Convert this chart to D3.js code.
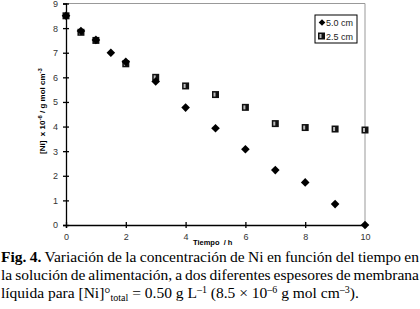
<!DOCTYPE html>
<html><head><meta charset="utf-8">
<script src="https://cdn.jsdelivr.net/npm/d3@7"></script>
<style>body{margin:0;background:#fff}svg{display:block}</style>
</head><body>
<script>
const timesA = [0,0.5,1,1.5,2,3,4,5,6,7,8,9,10];
const series50 = [8.5,7.88,7.52,7.0,6.63,5.83,4.77,3.93,3.08,2.23,1.73,0.85,0];
const timesB = [0,0.5,1,2,3,4,5,6,7,8,9,10];
const series25 = [8.5,7.83,7.5,6.55,6.0,5.65,5.3,4.78,4.12,3.96,3.9,3.86];
const xTicks = [0,2,4,6,8,10];
const yTicks = [0,1,2,3,4,5,6,7,8,9];
const legendLabels = ["5.0 cm","2.5 cm"];
const captionLines = [
  ["Fig. 4.", " Variación de la concentración de Ni en función del tiempo en"],
  ["", "la solución de alimentación, a dos diferentes espesores de membrana"]
];

const W=420,H=309;
const svg=d3.select("body").append("svg").attr("width",W).attr("height",H);
const x=d3.scaleLinear().domain([0,10]).range([66,365]);
const y=d3.scaleLinear().domain([0,9]).range([225,3.5]);

svg.append("line").attr("x1",x(0)).attr("x2",x(10)).attr("y1",y(9)).attr("y2",y(9)).attr("stroke","#999").attr("stroke-width",1);
svg.append("line").attr("x1",x(10)).attr("x2",x(10)).attr("y1",y(9)).attr("y2",y(0)).attr("stroke","#999").attr("stroke-width",1);

const fontA="Liberation Sans, Arial, sans-serif";
const xAxis=svg.append("g").attr("transform",`translate(0,${y(0)})`)
 .call(d3.axisBottom(x).tickValues(xTicks).tickSize(3).tickPadding(6).tickFormat(d3.format("d")));
const yAxis=svg.append("g").attr("transform",`translate(${x(0)},0)`)
 .call(d3.axisLeft(y).tickValues(yTicks).tickSize(3).tickPadding(5).tickFormat(d3.format("d")));
[xAxis,yAxis].forEach(g=>{
  g.select(".domain").attr("stroke","#000").attr("stroke-width",1.3);
  g.selectAll(".tick line").attr("stroke","#000").attr("stroke-width",1.3);
  g.selectAll("text").attr("font-family",fontA).attr("font-size",9).attr("fill","#333");
});
xAxis.selectAll(".tick line").attr("y1",-3).attr("y2",3);
yAxis.selectAll(".tick line").attr("x1",-3).attr("x2",3);

svg.append("text").attr("x",193).attr("y",245).attr("text-anchor","start")
 .attr("font-family",fontA).attr("font-size",7.5).attr("font-weight","bold").attr("xml:space","preserve")
 .text("Tiempo  / h");
const yl=svg.append("text").attr("transform","translate(45,111) rotate(-90)").attr("text-anchor","middle")
 .attr("font-family",fontA).attr("font-size",8).attr("font-weight","bold").attr("xml:space","preserve");
yl.append("tspan").text("[Ni]  x 10");
yl.append("tspan").attr("dy",-3).attr("font-size",6).text("-6");
yl.append("tspan").attr("dy",3).text(" / g mol cm");
yl.append("tspan").attr("dy",-3).attr("font-size",6).text("-3");

function diamondPath(r){return `M0,${-r}L${r},0L0,${r}L${-r},0Z`;}
function drawSquare(g,cx,cy){
  g.append("rect").attr("x",cx-3.5).attr("y",cy-3.5).attr("width",7).attr("height",7).attr("fill","#111");
  g.append("rect").attr("x",cx-2).attr("y",cy-2).attr("width",2).attr("height",4).attr("fill","#bbb");
}
const sq=svg.append("g");
timesB.forEach((t,i)=>drawSquare(sq,x(t),y(series25[i])));
svg.append("g").selectAll("path").data(timesA).join("path")
 .attr("transform",(t,i)=>`translate(${x(t)},${y(series50[i])})`)
 .attr("d",diamondPath(4.3)).attr("fill","#000");

const lg=svg.append("g");
lg.append("rect").attr("x",315).attr("y",15).attr("width",42).attr("height",28).attr("fill","#fff").attr("stroke","#000").attr("stroke-width",1);
lg.append("path").attr("transform","translate(322,22.5)").attr("d",diamondPath(3.3)).attr("fill","#000");
drawSquare(lg,321.5,36);
legendLabels.forEach((l,i)=>lg.append("text").attr("x",326).attr("y",26+i*13.5)
 .attr("font-family",fontA).attr("font-size",9).attr("fill","#222").text(l));

const fontT="Liberation Serif, Times New Roman, serif";
const cap=svg.append("g").attr("font-family",fontT).attr("font-size",15.5).attr("fill","#000");
captionLines.forEach((ln,i)=>{
  const t=cap.append("text").attr("x",1).attr("y",262+i*18).attr("xml:space","preserve");
  if(ln[0]) t.append("tspan").attr("font-weight","bold").text(ln[0]);
  t.append("tspan").text(ln[1]);
  const w=t.node().getComputedTextLength();
  const nsp=(ln[0]+ln[1]).split(" ").length-1;
  t.attr("word-spacing",(418-w)/nsp);
});
const l3=cap.append("text").attr("x",1).attr("y",298);
l3.append("tspan").text("líquida para [Ni]°");
l3.append("tspan").attr("font-size",10).attr("dy",3).text("total");
l3.append("tspan").attr("dy",-3).text(" = 0.50 g L");
l3.append("tspan").attr("font-size",10).attr("dy",-5).text("–1");
l3.append("tspan").attr("dy",5).text(" (8.5 × 10");
l3.append("tspan").attr("font-size",10).attr("dy",-5).text("–6");
l3.append("tspan").attr("dy",5).text(" g mol cm");
l3.append("tspan").attr("font-size",10).attr("dy",-5).text("–3");
l3.append("tspan").attr("dy",5).text(").");
</script>
</body></html>
